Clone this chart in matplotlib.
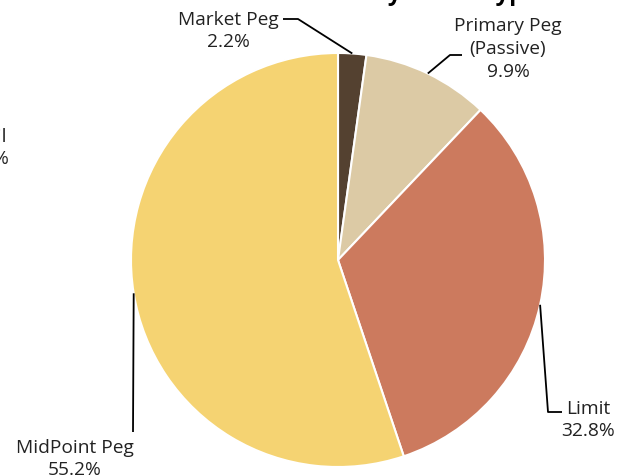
import numpy as np
import matplotlib
matplotlib.use('Agg')
import matplotlib.pyplot as plt

plt.rcParams['font.family'] = ['Open Sans', 'DejaVu Sans']

# data
labels = ['Market Peg', 'Primary Peg\n(Passive)', 'Limit', 'MidPoint Peg']
shares = [2.2, 9.9, 32.8, 55.2]
colors = ['#544130', '#dccaa5', '#cc7a5e', '#f5d372']

W, H = 622, 477
fig = plt.figure(figsize=(W / 100, H / 100), dpi=100)
ax = fig.add_axes([0, 0, 1, 1])


def py(y):
    # pixel row (top origin) -> axes y
    return H - y


cx, cy, r = 338, py(261), 207
wedges, _ = ax.pie(shares, colors=colors, startangle=90, counterclock=False,
                   center=(cx, cy), radius=r,
                   wedgeprops=dict(edgecolor='white', linewidth=1.5))

# label placement: (elbow, line end, text position)
layout = [
    ((298, 20), (283, 20), (228, 31)),
    ((450, 56), (462, 56), (508, 49)),
    ((548, 413), (562, 413), (588, 420)),
    ((133, 433), (133, 433), (75, 459)),
]

for w, lab, val, (elb, end, tpos) in zip(wedges, labels, shares, layout):
    mid = np.deg2rad((w.theta1 + w.theta2) / 2)
    ax_x = cx + r * np.cos(mid)
    ax_y = cy + r * np.sin(mid)
    ax.plot([ax_x, elb[0], end[0]], [ax_y, py(elb[1]), py(end[1])],
            color='black', lw=1.3, solid_capstyle='butt')
    ax.text(tpos[0], py(tpos[1]), f'{lab}\n{val}%', ha='center', va='center',
            fontsize=13.8, color='#222222', linespacing=1.35)

# neighbouring chart label, cut by the frame
ax.text(-18, py(148), 'Retail\n15.6%', ha='center', va='center',
        fontsize=13.8, color='#222222', linespacing=1.35)

# title, mostly above the frame
fig.text(0.447, 1.0, 'Volume by Order Type', ha='left', va='baseline',
         fontsize=17, fontweight='bold', color='black')

ax.set_xlim(0, W)
ax.set_ylim(0, H)
ax.set_aspect('equal')
ax.axis('off')

fig.savefig('out.png', dpi=100)
